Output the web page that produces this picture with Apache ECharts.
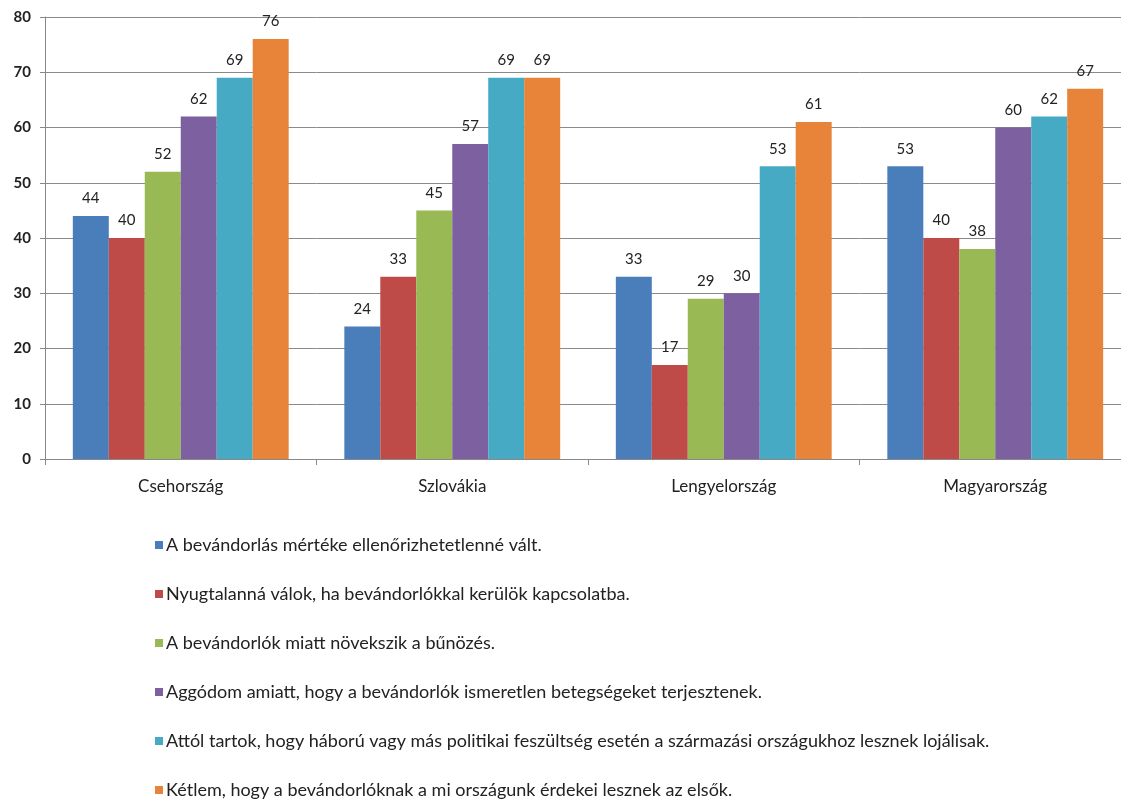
<!DOCTYPE html>
<html>
<head>
<meta charset="utf-8">
<script src="https://cdn.jsdelivr.net/npm/echarts@6/dist/echarts.min.js"></script>
<style>
html,body{margin:0;padding:0;background:#fff;overflow:hidden;}
#wrap{width:1121px;height:806px;overflow:hidden;}
#chart{width:1131px;height:806px;}
</style>
</head>
<body>
<div id="wrap"><div id="chart"></div></div>
<script>
const categories = ['Csehország', 'Szlovákia', 'Lengyelország', 'Magyarország'];
const seriesNames = [
  'A bevándorlás mértéke ellenőrizhetetlenné vált.',
  'Nyugtalanná válok, ha bevándorlókkal kerülök kapcsolatba.',
  'A bevándorlók miatt növekszik a bűnözés.',
  'Aggódom amiatt, hogy a bevándorlók ismeretlen betegségeket terjesztenek.',
  'Attól tartok, hogy háború vagy más politikai feszültség esetén a származási országukhoz lesznek lojálisak.',
  'Kétlem, hogy a bevándorlóknak a mi országunk érdekei lesznek az elsők.'
];
const s1 = [44, 24, 33, 53];
const s2 = [40, 33, 17, 40];
const s3 = [52, 45, 29, 38];
const s4 = [62, 57, 30, 60];
const s5 = [69, 69, 53, 62];
const s6 = [76, 69, 61, 67];
const seriesValues = [s1, s2, s3, s4, s5, s6];
const colors = ['#4A7EBB', '#BE4B48', '#98B954', '#7D60A0', '#46AAC5', '#E8833A'];

const fontFamily = 'Lato, "Open Sans", sans-serif';
const chart = echarts.init(document.getElementById('chart'));
chart.setOption({
  backgroundColor: '#fff',
  animation: false,
  color: colors,
  grid: { left: 45, right: 0, top: 17, bottom: 347, containLabel: false },
  xAxis: {
    type: 'category',
    data: categories,
    axisLine: { lineStyle: { color: '#888', width: 1 } },
    axisTick: { show: true, length: 6, lineStyle: { color: '#888' } },
    axisLabel: { color: '#222', fontSize: 17, fontFamily: fontFamily, margin: 19 }
  },
  yAxis: {
    type: 'value',
    min: 0, max: 80, interval: 10,
    axisLine: { show: true, lineStyle: { color: '#888', width: 1 } },
    axisTick: { show: true, length: 5, lineStyle: { color: '#888' } },
    axisLabel: { color: '#222', fontSize: 15, fontFamily: fontFamily, margin: 14, fontWeight: 'bold' },
    splitLine: { lineStyle: { color: '#8a8a8a', width: 1 } }
  },
  legend: {
    orient: 'vertical',
    left: 150,
    top: 531,
    height: 275,
    itemWidth: 8,
    itemHeight: 8,
    itemGap: 31,
    icon: 'rect',
    textStyle: { color: '#222', fontSize: 18, fontFamily: fontFamily, padding: [0,0,0,-2] },
    data: seriesNames
  },
  series: seriesValues.map((vals, i) => ({
    name: seriesNames[i],
    type: 'bar',
    data: vals,
    barGap: '0%',
    barCategoryGap: '20.5%',
    itemStyle: { color: colors[i] },
    label: {
      show: true, position: 'top', distance: 10,
      color: '#222', fontSize: 15, fontFamily: fontFamily
    }
  }))
});
</script>
</body>
</html>
